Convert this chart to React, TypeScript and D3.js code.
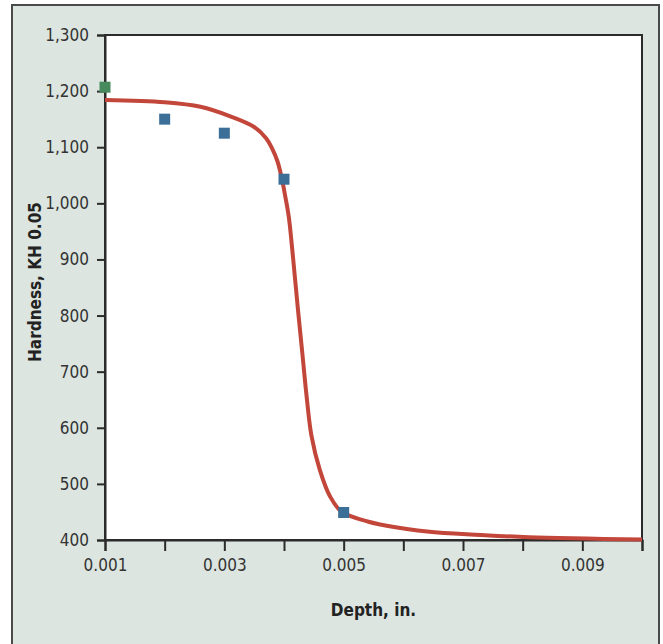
import React, { useEffect, useRef } from 'react';
import * as d3 from 'd3';

// measured hardness points (depth in inches)
const pointDepths = [0.001, 0.002, 0.003, 0.004, 0.005];
const pointHardness = [1207, 1150, 1125, 1043, 449];
const pointColors = ['#468a5d', '#3b6f98', '#3b6f98', '#3b6f98', '#3b6f98'];

// fitted hardness curve
const curveDepths = [0.001, 0.002, 0.0026, 0.0031, 0.0035, 0.0037, 0.0038, 0.00389, 0.00396, 0.00402, 0.00408,
  0.00415, 0.00423, 0.00431, 0.00438, 0.00446, 0.0046, 0.00477, 0.00496, 0.0054, 0.0064, 0.0073, 0.0081, 0.01];
const curveHardness = [1184, 1180, 1172, 1155, 1136, 1116, 1098, 1075, 1046, 1013, 976,
  905, 815, 730, 655, 586, 525, 478, 451, 433, 415, 409, 405, 401];

const xTicks = [0.001, 0.002, 0.003, 0.004, 0.005, 0.006, 0.007, 0.008, 0.009, 0.01];
const xTickLabels = ['0.001', '', '0.003', '', '0.005', '', '0.007', '', '0.009', ''];
const yTicks = [400, 500, 600, 700, 800, 900, 1000, 1100, 1200, 1300];

export default function App() {
  const ref = useRef<SVGSVGElement>(null);

  useEffect(() => {
    const width = 663;
    const height = 644;
    const left = 105, right = 642, top = 35, bottom = 540;
    const font = '"Liberation Sans Narrow", "DejaVu Sans Condensed", "Arial Narrow", sans-serif';

    const svg = d3.select(ref.current)
      .attr('width', width)
      .attr('height', height);
    svg.selectAll('*').remove();

    // outer panel
    svg.append('rect')
      .attr('x', 12).attr('y', 5)
      .attr('width', 647).attr('height', 660)
      .attr('fill', '#dce5e0')
      .attr('stroke', '#4a4a4a')
      .attr('stroke-width', 2);

    const x = d3.scaleLinear().domain([0.001, 0.01]).range([left, right]);
    const y = d3.scaleLinear().domain([400, 1300]).range([bottom, top]);

    svg.append('rect')
      .attr('x', left).attr('y', top)
      .attr('width', right - left).attr('height', bottom - top)
      .attr('fill', '#fff')
      .attr('stroke', '#2b2b2b')
      .attr('stroke-width', 2);

    const xAxis = svg.append('g')
      .attr('transform', `translate(0,${bottom})`)
      .call(d3.axisBottom(x).tickValues(xTicks).tickSize(11).tickPadding(8)
        .tickFormat((d, i) => xTickLabels[i]));

    const yAxis = svg.append('g')
      .attr('transform', `translate(${left},0)`)
      .call(d3.axisLeft(y).tickValues(yTicks).tickSize(8).tickPadding(8)
        .tickFormat(d3.format(',')));

    [xAxis, yAxis].forEach(ax => {
      ax.select('.domain').attr('stroke', '#2b2b2b').attr('stroke-width', 2);
      ax.selectAll('.tick line').attr('stroke', '#2b2b2b').attr('stroke-width', 2);
      ax.selectAll('.tick text')
        .attr('fill', '#333')
        .style('font-family', font)
        .style('font-size', '17px');
    });

    const line = d3.line<number>()
      .x((d, i) => x(curveDepths[i]))
      .y(d => y(d))
      .curve(d3.curveCatmullRom.alpha(0.5));

    svg.append('path')
      .datum(curveHardness)
      .attr('d', line)
      .attr('fill', 'none')
      .attr('stroke', '#c3463a')
      .attr('stroke-width', 4);

    const size = 11;
    svg.append('g')
      .selectAll('rect')
      .data(pointHardness)
      .enter()
      .append('rect')
      .attr('x', (d, i) => x(pointDepths[i]) - size / 2)
      .attr('y', d => y(d) - size / 2)
      .attr('width', size)
      .attr('height', size)
      .attr('fill', (d, i) => pointColors[i]);

    svg.append('text')
      .attr('x', (left + right) / 2)
      .attr('y', 616)
      .attr('text-anchor', 'middle')
      .attr('fill', '#222')
      .style('font-family', font)
      .style('font-weight', 'bold')
      .style('font-size', '17px')
      .text('Depth, in.');

    svg.append('text')
      .attr('transform', `translate(41,282) rotate(-90)`)
      .attr('text-anchor', 'middle')
      .attr('fill', '#222')
      .style('font-family', font)
      .style('font-weight', 'bold')
      .style('font-size', '17px')
      .text('Hardness, KH 0.05');
  }, []);

  return <svg ref={ref} style={{ position: 'absolute', left: 0, top: 0 }} />;
}
